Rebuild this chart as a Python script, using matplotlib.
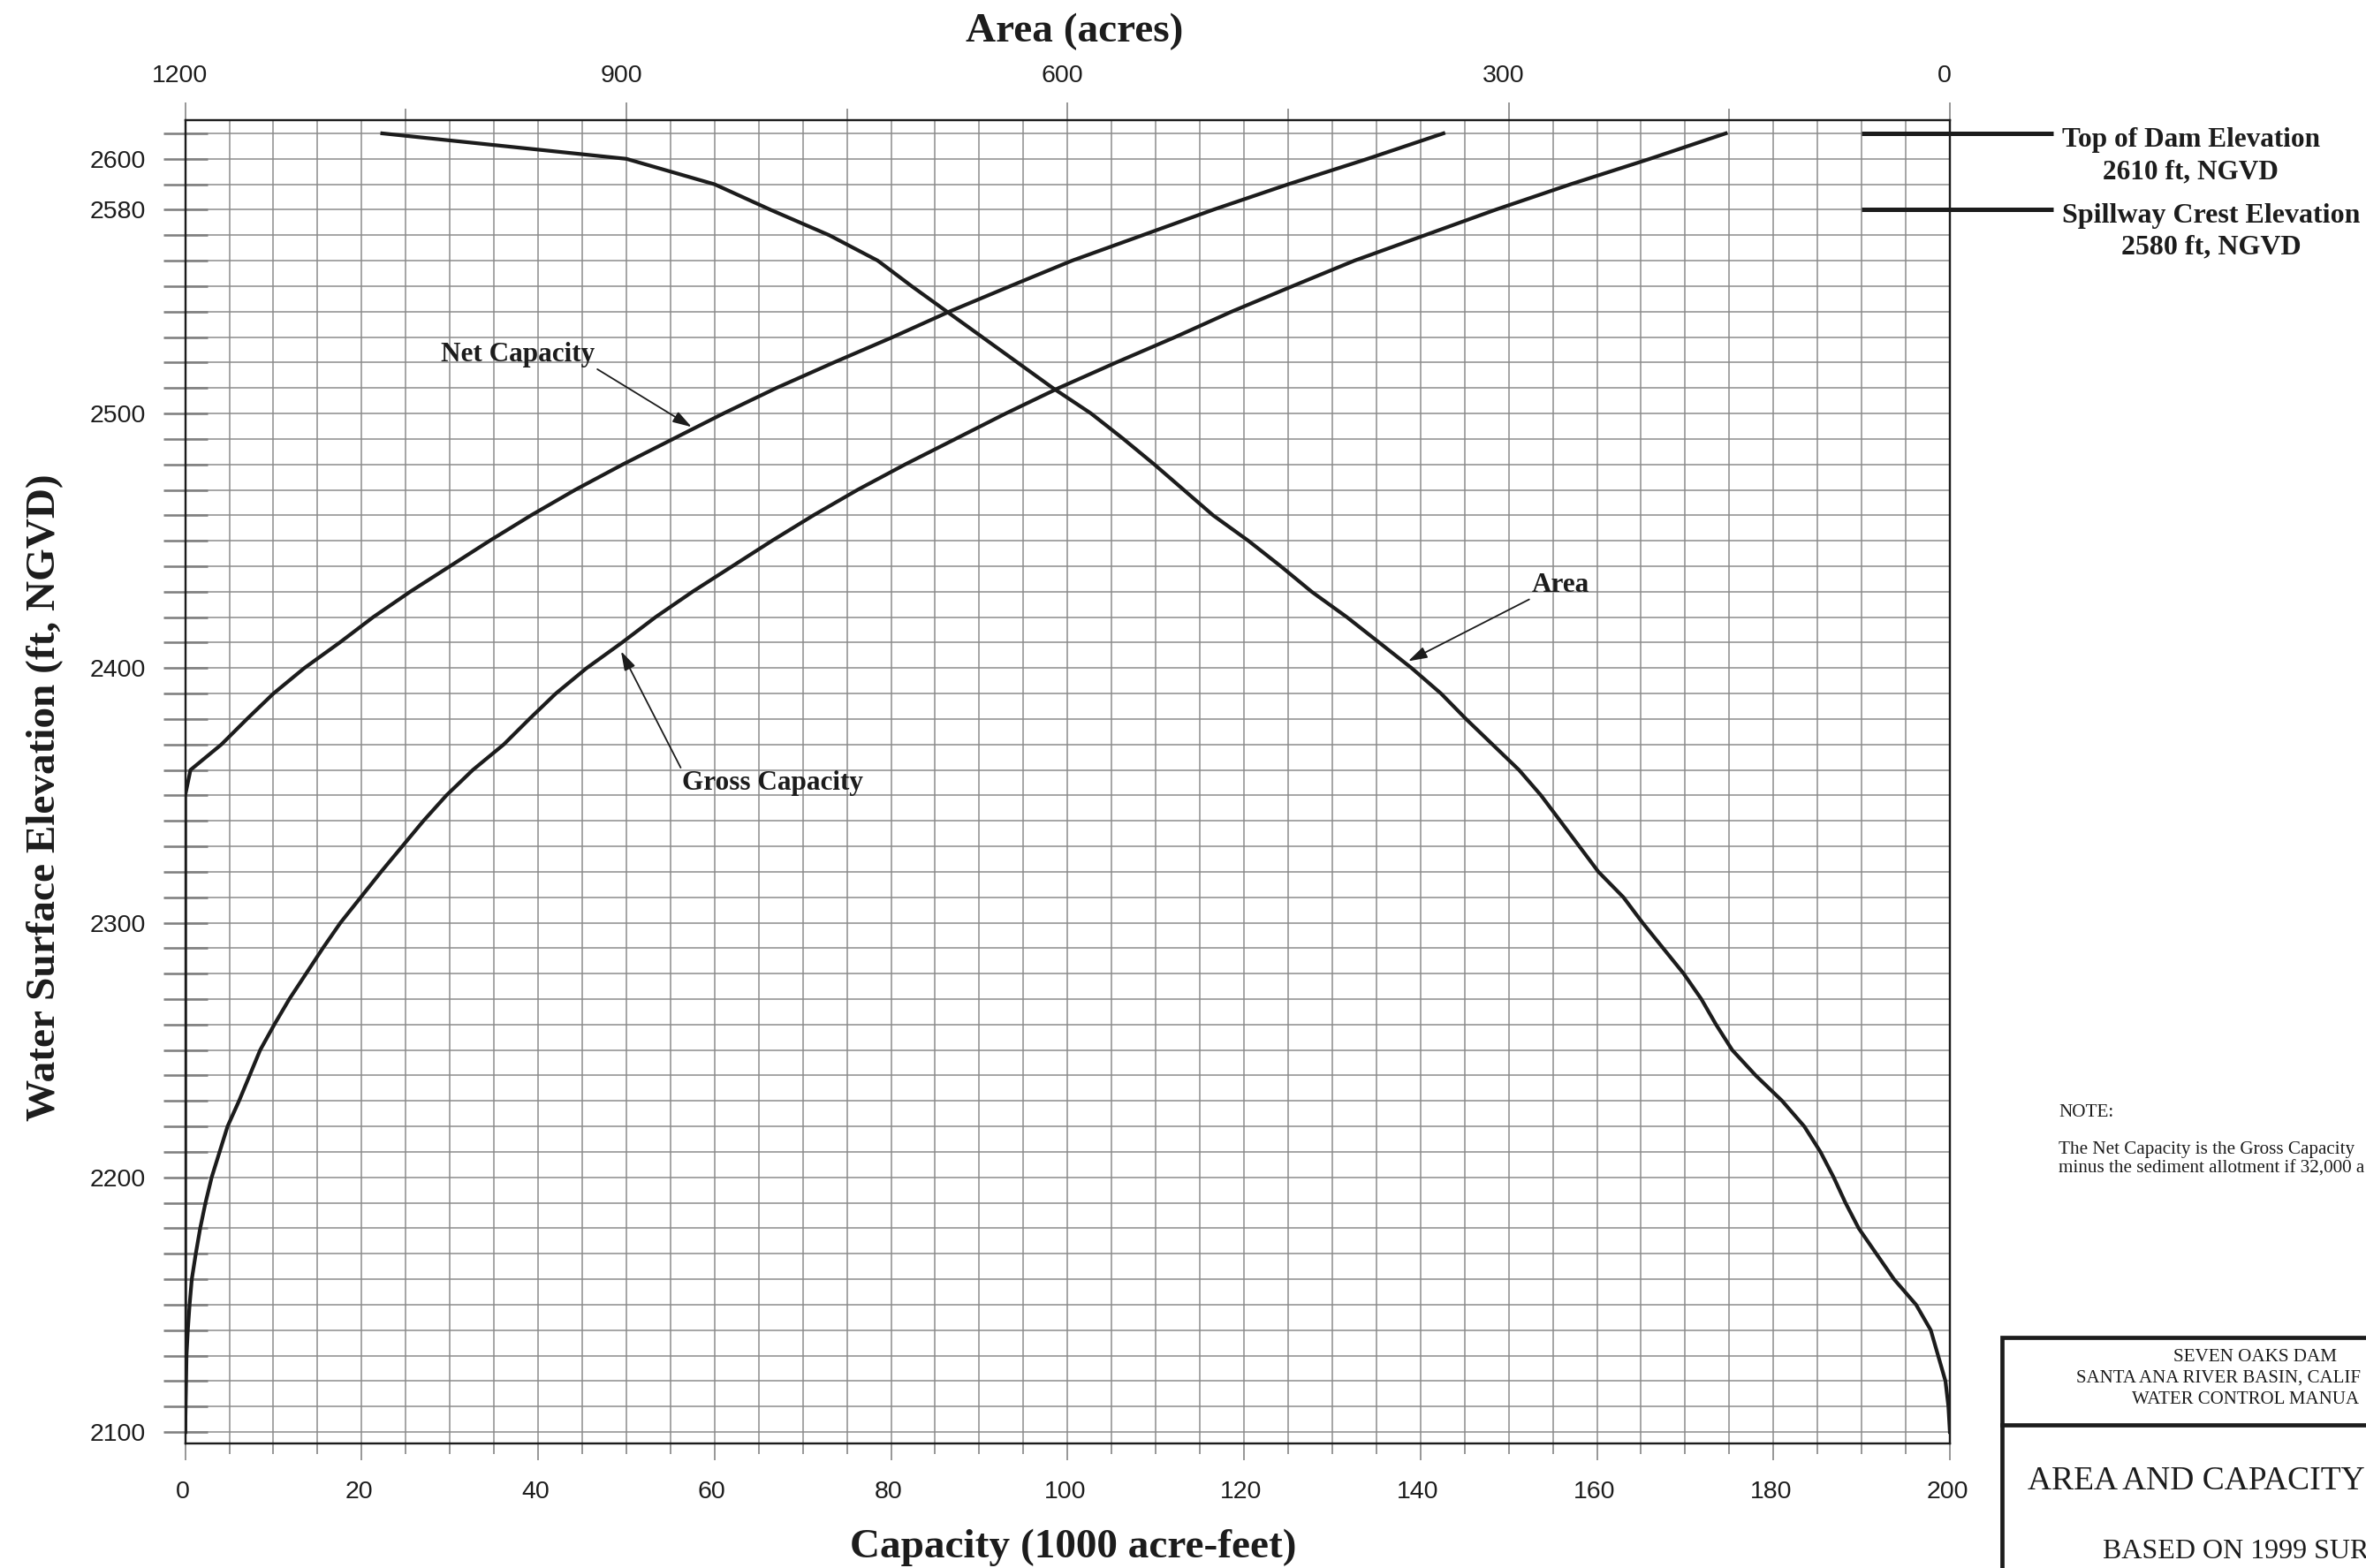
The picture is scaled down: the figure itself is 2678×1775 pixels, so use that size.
import matplotlib
matplotlib.use("Agg")
import matplotlib.pyplot as plt
import matplotlib.transforms as mtransforms
from matplotlib.ticker import FixedLocator, MultipleLocator, FuncFormatter
from matplotlib.patches import Rectangle
from matplotlib.lines import Line2D

# ---------------- data ----------------
elevation = [2100, 2110, 2120, 2130, 2140, 2150, 2160, 2170, 2180, 2190,
             2200, 2210, 2220, 2230, 2240, 2250, 2260, 2270, 2280, 2290,
             2300, 2310, 2320, 2330, 2340, 2350, 2360, 2370, 2380, 2390,
             2400, 2410, 2420, 2430, 2440, 2450, 2460, 2470, 2480, 2490,
             2500, 2510, 2520, 2530, 2540, 2550, 2560, 2570, 2580, 2590,
             2600, 2610]

area_acres = [0, 1, 3, 8, 13, 23, 38, 50, 62, 71,
              79, 88, 99, 114, 132, 148, 159, 169, 181, 195,
              209, 222, 239, 252, 265, 278, 293, 311, 329, 346,
              366, 388, 410, 434, 455, 477, 501, 521, 541, 562,
              584, 610, 634, 658, 682, 706, 729, 762, 802, 840,
              900, 1066]

gross_capacity = [0.0, 0.05, 0.1, 0.15, 0.3, 0.5, 0.75, 1.2, 1.7, 2.3,
                  3.0, 3.9, 4.8, 6.1, 7.3, 8.5, 10.1, 11.8, 13.7, 15.6,
                  17.6, 19.9, 22.2, 24.6, 27.0, 29.6, 32.6, 36.1, 39.0, 42.0,
                  45.5, 49.5, 53.3, 57.5, 62.0, 66.5, 71.2, 76.2, 81.6, 87.3,
                  93.0, 99.0, 105.5, 112.2, 118.6, 125.5, 132.5, 140.5, 148.5, 157.0,
                  166.0, 174.6]

net_capacity = [0.0, 0.0, 0.0, 0.0, 0.0, 0.0, 0.0, 0.0, 0.0, 0.0,
                0.0, 0.0, 0.0, 0.0, 0.0, 0.0, 0.0, 0.0, 0.0, 0.0,
                0.0, 0.0, 0.0, 0.0, 0.0, 0.0, 0.6, 4.1, 7.0, 10.0,
                13.5, 17.5, 21.3, 25.5, 30.0, 34.5, 39.2, 44.2, 49.6, 55.3,
                61.0, 67.0, 73.5, 80.2, 86.6, 93.5, 100.5, 108.5, 116.5, 125.0,
                134.0, 142.6]

capacity_ticks = [0, 20, 40, 60, 80, 100, 120, 140, 160, 180, 200]
area_ticks = [1200, 900, 600, 300, 0]
area_minor_ticks = [1050, 750, 450, 150]
elevation_labels = [2100, 2200, 2300, 2400, 2500, 2580, 2600]
top_of_dam = 2610
spillway_crest = 2580

# ---------------- styling ----------------
W, H, DPI = 2678, 1775, 100
PX = 72.0 / DPI  # points per pixel
plt.rcParams["font.family"] = ["Liberation Sans", "DejaVu Sans"]
SERIF = ["Liberation Serif", "DejaVu Serif"]
INK = "#1c1c1c"
GRID = "#8a8a8a"
TICK = "#808080"
TICKFS = 20.5

fig = plt.figure(figsize=(W / DPI, H / DPI), dpi=DPI)


def fx(px):
    return px / W


def fy(py):
    return 1 - py / H


A_L, A_R, A_T, A_B = 209.6, 2207.0, 135.7, 1634.0
ax = fig.add_axes([fx(A_L), fy(A_B), (A_R - A_L) / W, (A_B - A_T) / H])
ax.set_xlim(0, 200)
ax.set_ylim(2095.5, 2615.3)

ax.xaxis.set_major_locator(FixedLocator(capacity_ticks))
ax.xaxis.set_minor_locator(MultipleLocator(5))
ax.yaxis.set_major_locator(MultipleLocator(10))
ax.yaxis.set_major_formatter(
    FuncFormatter(lambda v, p: f"{int(round(v))}" if int(round(v)) in elevation_labels else ""))
ax.grid(True, which="both", color=GRID, lw=1.5 * PX)
ax.set_axisbelow(True)

ax.tick_params(axis="x", which="major", direction="out", length=19 * PX, width=1.6 * PX,
               color=TICK, pad=23 * PX, labelsize=TICKFS, labelcolor=INK)
ax.tick_params(axis="x", which="minor", direction="out", length=12 * PX, width=1.6 * PX,
               color=TICK)
ax.tick_params(axis="y", which="major", direction="inout", length=50 * PX, width=2.6 * PX,
               color=TICK, pad=20 * PX, labelsize=TICKFS, labelcolor=INK)

for s in ax.spines.values():
    s.set_color(INK)
    s.set_linewidth(2.2 * PX)

# capacity curves
ax.plot(gross_capacity, elevation, color=INK, lw=4.2 * PX, solid_joinstyle="round", zorder=3)
ax.plot(net_capacity, elevation, color=INK, lw=4.2 * PX, solid_joinstyle="round", zorder=3)

# area curve on the top (reversed) axis
ax2 = ax.twiny()
ax2.set_xlim(1200, 0)
ax2.set_ylim(ax.get_ylim())
ax2.xaxis.set_major_locator(FixedLocator(area_ticks))
ax2.xaxis.set_minor_locator(FixedLocator(area_minor_ticks))
ax2.tick_params(axis="x", which="major", direction="out", length=20 * PX, width=1.6 * PX,
                color=TICK, pad=17 * PX, labelsize=TICKFS, labelcolor=INK)
ax2.tick_params(axis="x", which="minor", direction="out", length=13 * PX, width=1.6 * PX,
                color=TICK)
for s in ax2.spines.values():
    s.set_color(INK)
    s.set_linewidth(2.2 * PX)
ax2.plot(area_acres, elevation, color=INK, lw=4.2 * PX, solid_joinstyle="round", zorder=3)

# small horizontal nudges of tick labels (letter-spaced originals sit slightly left)
for lbl in ax2.get_xticklabels():
    lbl.set_transform(lbl.get_transform() + mtransforms.ScaledTranslation(-6 / DPI, 0, fig.dpi_scale_trans))
for lbl in ax.get_xticklabels():
    lbl.set_transform(lbl.get_transform() + mtransforms.ScaledTranslation(-3 / DPI, 0, fig.dpi_scale_trans))

# dam reference lines
for elev in (top_of_dam, spillway_crest):
    ax.plot([190, 211.7], [elev, elev], color=INK, lw=5 * PX, clip_on=False,
            solid_capstyle="butt", zorder=4)

bold = dict(fontfamily=SERIF, fontweight="bold", color=INK)
ax.text(212.7, 2612.5, f"Top of Dam Elevation\n{top_of_dam} ft, NGVD", fontsize=22.5,
        ha="left", va="top", multialignment="center", linespacing=1.33, clip_on=False, **bold)
ax.text(212.7, 2582.5, f"Spillway Crest Elevation\n{spillway_crest} ft, NGVD", fontsize=23,
        ha="left", va="top", multialignment="center", linespacing=1.3, clip_on=False, **bold)

arrow = dict(arrowstyle="-|>,head_length=0.65,head_width=0.2", color=INK, lw=1.3,
             mutation_scale=20, shrinkA=0, shrinkB=0)
ax.annotate("Net Capacity", xy=(57.4, 2494.7), xytext=(29.0, 2520.4), ha="left", va="baseline",
            fontsize=22.5, arrowprops=dict(arrow, relpos=(1, 0)), **bold)
ax.annotate("Gross Capacity", xy=(49.4, 2406.6), xytext=(56.3, 2352.3), ha="left", va="baseline",
            fontsize=22.5, arrowprops=dict(arrow, relpos=(0, 1)), **bold)
ax.annotate("Area", xy=(138.6, 2402.7), xytext=(152.6, 2429.9), ha="left", va="baseline",
            fontsize=22.5, arrowprops=dict(arrow, relpos=(0, 0)), **bold)

# axis labels
lab = dict(fontfamily=SERIF, fontweight="bold", fontsize=34, color=INK)
ax.set_xlabel("Capacity (1000 acre-feet)", **lab)
ax.xaxis.set_label_coords(0.503, -(1763 - A_B) / (A_B - A_T))
ax.xaxis.label.set_verticalalignment("baseline")
ax2.set_xlabel("Area (acres)", **lab)
ax2.xaxis.set_label_coords(0.504, 1 + (A_T - 47) / (A_B - A_T))
ax2.xaxis.label.set_verticalalignment("baseline")
ax.set_ylabel("Water Surface Elevation (ft, NGVD)", **lab)
ax.yaxis.set_label_coords(-(A_L - 62) / (A_R - A_L), (A_B - 902.6) / (A_B - A_T))
ax.yaxis.label.set_verticalalignment("baseline")

# note (page is cropped at the right edge: only the visible part is reproduced)
fig.text(fx(2330), fy(1250),
         "NOTE:\n\nThe Net Capacity is the Gross Capacity\n"
         "minus the sediment allotment if 32,000 a",
         fontfamily=SERIF, fontsize=15.2, color=INK, ha="left", va="top", linespacing=1.16)

# title block (cropped at the right/bottom edges)
fig.add_artist(Rectangle((fx(2266), fy(1830)), fx(2760) - fx(2266), (1830 - 1514) / H,
                         transform=fig.transFigure, fill=False, ec=INK, lw=4.7 * PX, clip_on=False))
fig.add_artist(Line2D([fx(2266), fx(2760)], [fy(1613), fy(1613)], transform=fig.transFigure,
                      color=INK, lw=4.7 * PX))
serif = dict(fontfamily=SERIF, color=INK, va="baseline")
fig.text(fx(2552), fy(1541), "SEVEN OAKS DAM", fontsize=15.2, ha="center", **serif)
fig.text(fx(2350), fy(1565), "SANTA ANA RIVER BASIN, CALIF", fontsize=15, ha="left", **serif)
fig.text(fx(2413), fy(1589), "WATER CONTROL MANUA", fontsize=15, ha="left", **serif)
fig.text(fx(2295), fy(1686), "AREA AND CAPACITY", fontsize=27, ha="left", **serif)
fig.text(fx(2380), fy(1764), "BASED ON 1999 SUR", fontsize=23, ha="left", **serif)

fig.savefig("out.png", dpi=DPI)
